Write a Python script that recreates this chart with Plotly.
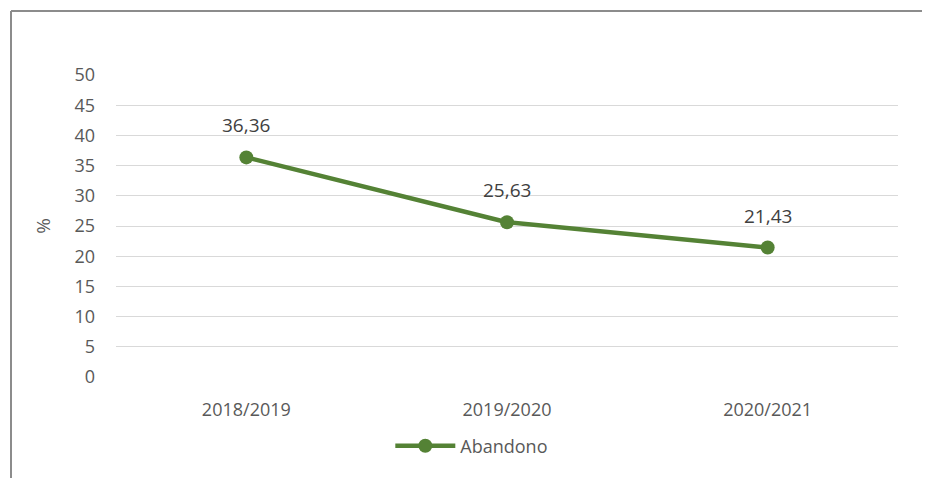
import plotly.graph_objects as go

categories = ["2018/2019", "2019/2020", "2020/2021"]
values = [36.36, 25.63, 21.43]
labels = ["36,36", "25,63", "21,43"]
series_name = "Abandono"
y_ticks = [0, 5, 10, 15, 20, 25, 30, 35, 40, 45, 50]

# page body has an 8px margin on every side; keep figure inside the window
OFF = 8
W, H = 930 - 2 * OFF, 486 - 2 * OFF
L, T = 116 - OFF, 75 - OFF
R = W - (898 - OFF)
B = H - (377 - OFF)
pw, ph = W - L - R, H - T - B

green = "#548235"
txt = "#595959"
font_family = "Open Sans, Liberation Sans, sans-serif"

fig = go.Figure()
fig.add_trace(go.Scatter(
    x=categories, y=values, mode="lines+markers",
    name=series_name,
    line=dict(color=green, width=4.5),
    marker=dict(color=green, size=14),
    cliponaxis=False,
))

for c, v, t in zip(categories, values, labels):
    fig.add_annotation(x=c, y=v, text=t, showarrow=False, yshift=32,
                       font=dict(size=19, color="#404040", family=font_family))

def px_x(p):
    return (p - OFF - L) / pw

def px_y(p):
    return 1 - (p - OFF - T) / ph

border = dict(color="#8c8c8c", width=2)
fig.update_layout(
    width=W, height=H,
    margin=dict(l=L, r=R, t=T, b=B),
    paper_bgcolor="white", plot_bgcolor="white",
    font=dict(family=font_family, size=18, color=txt),
    showlegend=True,
    legend=dict(orientation="h", x=0.455, xanchor="center", y=px_y(446), yanchor="middle",
                font=dict(size=18, color=txt), itemwidth=60, borderwidth=0),
    xaxis=dict(type="category", range=[-0.5, 2.5], showgrid=False, showline=False,
               zeroline=False, ticks="", tickfont=dict(size=18, color=txt), ticklabelstandoff=20),
    yaxis=dict(range=[0, 50], tickvals=y_ticks, showgrid=True, gridcolor="#d9d9d9", gridwidth=1.3,
               zeroline=False, showline=False, ticks="", tickfont=dict(size=18, color=txt),
               ticklabelstandoff=20,
               title=dict(text="%", font=dict(size=19, color=txt), standoff=18)),
    shapes=[
        dict(type="line", xref="paper", yref="paper",
             x0=px_x(11), x1=px_x(11), y0=px_y(11), y1=px_y(OFF + H), line=border, layer="below"),
        dict(type="line", xref="paper", yref="paper",
             x0=px_x(11), x1=px_x(OFF + W), y0=px_y(11), y1=px_y(11), line=border, layer="below"),
    ],
)

fig.write_html("out.html")
